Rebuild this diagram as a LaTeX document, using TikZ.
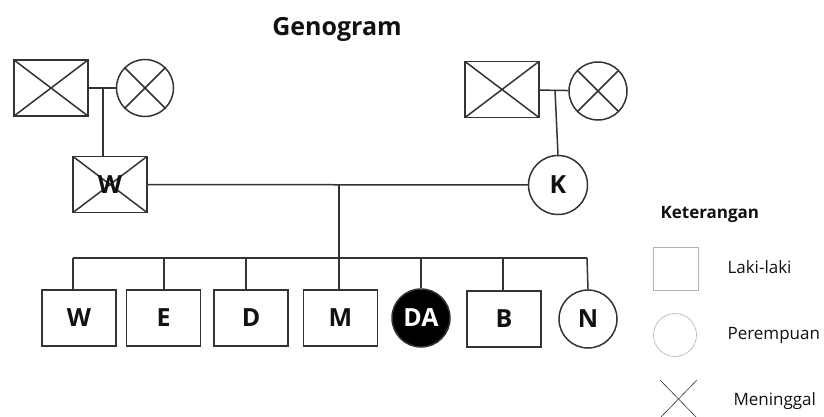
\documentclass[tikz,border=0pt]{standalone}
\usepackage{fontspec}
\setmainfont{Open Sans}
\definecolor{ink}{HTML}{333333}
\definecolor{txt}{HTML}{111111}
\definecolor{keygray}{HTML}{B0B0B0}
\begin{document}
\begin{tikzpicture}[x=1pt,y=-1pt,
  lin/.style={draw=ink, line width=1.5pt},
  male/.style={rectangle, lin, minimum width=74pt, minimum height=56pt, inner sep=0pt,
    text=txt, font=\bfseries\fontsize{25}{25}\selectfont},
  female/.style={circle, lin, minimum size=58pt, inner sep=0pt,
    text=txt, font=\bfseries\fontsize{25}{25}\selectfont},
  dead/.style={path picture={\draw[ink, line width=1.5pt]
    (path picture bounding box.north west) -- (path picture bounding box.south east)
    (path picture bounding box.north east) -- (path picture bounding box.south west);}},
  keytext/.style={anchor=west, text=txt, font=\fontsize{17}{17}\selectfont},
  keyshape/.style={draw=keygray, line width=0.6pt, inner sep=0pt}
]
\useasboundingbox (0,0) rectangle (824,417);

% title
\node[text=txt, font=\bfseries\fontsize{25}{25}\selectfont] (title) at (337,29) {Genogram};

% grandparents, left side
\node[male, dead] (gf1) at (51,88) {};
\node[female, dead, minimum size=57pt] (gm1) at (145,88) {};
% grandparents, right side
\node[male, dead] (gf2) at (502,89.5) {};
\node[female, dead] (gm2) at (598,91) {};

% parents
\node[male, dead] (fa) at (110,184.5) {W};
\node[female, minimum size=59pt] (mo) at (558,185) {K};

% children
\node[male] (c1) at (79,318) {W};
\node[male] (c2) at (163.5,318) {E};
\node[male] (c3) at (251,318) {D};
\node[male] (c4) at (340.5,318) {M};
\node[female, fill=black, text=white] (c5) at (421,318) {DA};
\node[male] (c6) at (504,319) {B};
\node[female] (c7) at (588,319) {N};

% couple lines and descent lines
\coordinate (u1) at (103,88);
\coordinate (u2) at (555,90);
\coordinate (u3) at (339,184.5);
\coordinate (sl) at (73,258);
\coordinate (sr) at (587,258);
\draw[lin] (gf1) -- (gm1);
\draw[lin] (u1) -- (u1 |- fa.north);
\draw[lin] (gf2) -- (gm2);
\draw[lin] (u2) -- (mo.north);
\draw[lin] (fa) -- (mo);
\draw[lin] (u3) -- (u3 |- c4.north);
\draw[lin] (sl) -- (sr);
\draw[lin] (sl) -- (sl |- c1.north);
\draw[lin] (c2.north -| 164,0) -- (164,258);
\draw[lin] (c3.north -| 246,0) -- (246,258);
\draw[lin] (c5.north) -- (c5.north |- sl);
\draw[lin] (c6.north -| 503,0) -- (503,258);
\draw[lin] (sr) -- (c7.north);

% legend
\node[anchor=west, text=txt, font=\bfseries\fontsize{17}{17}\selectfont] (kt) at (657,214) {Keterangan};
\node[keyshape, rectangle, minimum width=45pt, minimum height=43pt] (ksq) at (675.5,268.5) {};
\node[keyshape, circle, minimum size=43pt] (kci) at (675,335) {};
\coordinate (kx1) at (660,380);
\coordinate (kx2) at (697,380);
\coordinate (kx3) at (660,418);
\coordinate (kx4) at (697,418);
\draw[ink, line width=0.6pt] (kx1) -- (kx4) (kx2) -- (kx3);
\node[keytext] (l1) at (724,267) {Laki-laki};
\node[keytext] (l2) at (724,335) {Perempuan};
\node[keytext] (l3) at (730,401) {Meninggal};
\end{tikzpicture}
\end{document}
